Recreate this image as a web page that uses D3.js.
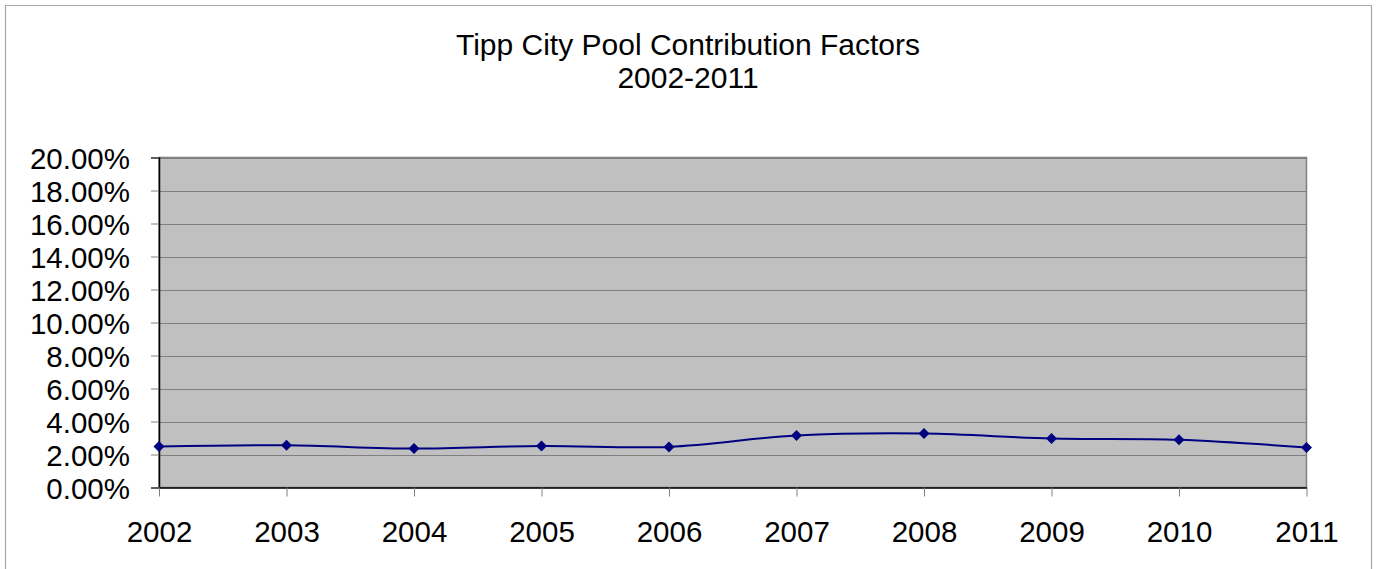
<!DOCTYPE html>
<html>
<head>
<meta charset="utf-8">
<script src="https://cdn.jsdelivr.net/npm/d3@7"></script>
<style>
  body { margin: 0; background: #fff; }
  text { font-family: "Liberation Sans", Arial, sans-serif; fill: #000; }
</style>
</head>
<body>
<script>
// データ
const years = [2002, 2003, 2004, 2005, 2006, 2007, 2008, 2009, 2010, 2011];
const factors = [0.0248, 0.0256, 0.0236, 0.0252, 0.0246, 0.0315, 0.0327, 0.0297, 0.0289, 0.0242];
const yTicks = [0, 0.02, 0.04, 0.06, 0.08, 0.10, 0.12, 0.14, 0.16, 0.18, 0.20];
const titleLines = ["Tipp City Pool Contribution Factors", "2002-2011"];

const width = 1376, height = 569;
const plot = {left: 159, right: 1306.5, top: 157.5, bottom: 487.5};

const svg = d3.select("body").append("svg")
    .attr("width", width)
    .attr("height", height);

// 外枠
svg.append("path")
    .attr("d", `M5.5,${height} V5.5 H1371.5 V${height}`)
    .attr("fill", "none")
    .attr("stroke", "#a6a6a6")
    .attr("stroke-width", 1.2);

const x = d3.scalePoint()
    .domain(years)
    .range([plot.left, plot.right])
    .padding(0);

const y = d3.scaleLinear()
    .domain([0, 0.20])
    .range([plot.bottom, plot.top]);

// プロットエリア背景
svg.append("rect")
    .attr("x", plot.left)
    .attr("y", plot.top)
    .attr("width", plot.right - plot.left)
    .attr("height", plot.bottom - plot.top)
    .attr("fill", "#c0c0c0")
    .attr("stroke", "#808080")
    .attr("stroke-width", 1.5);

// グリッド線
svg.selectAll(".grid")
    .data(yTicks.slice(1))
    .enter()
    .append("line")
    .attr("x1", plot.left)
    .attr("x2", plot.right)
    .attr("y1", d => Math.round(y(d)) + 0.5)
    .attr("y2", d => Math.round(y(d)) + 0.5)
    .attr("stroke", "#808080")
    .attr("stroke-width", 1.2);

// y軸
const yAxis = svg.append("g")
    .attr("transform", `translate(${plot.left},0)`)
    .call(d3.axisLeft(y).tickValues(yTicks).tickSize(8).tickPadding(21)
        .tickFormat(d => (d * 100).toFixed(2) + "%"));
yAxis.select(".domain").attr("stroke", "#000").attr("stroke-width", 1.5);
yAxis.selectAll(".tick line").attr("stroke", "#808080");
yAxis.selectAll("text")
    .attr("font-size", 29.5)
    .attr("font-family", "Liberation Sans, Arial, sans-serif")
    .attr("dy", "0.36em");

// x軸
const xAxis = svg.append("g")
    .attr("transform", `translate(0,${plot.bottom})`)
    .call(d3.axisBottom(x).tickSize(9).tickPadding(25).tickSizeOuter(0));
xAxis.select(".domain").attr("stroke", "#000").attr("stroke-width", 1.5);
xAxis.selectAll(".tick line").attr("stroke", "#808080");
xAxis.selectAll("text")
    .attr("font-size", 29.5)
    .attr("font-family", "Liberation Sans, Arial, sans-serif")
    .attr("dy", "0.71em");

// 折れ線 (スムージング)
const line = d3.line()
    .x((d, i) => x(years[i]))
    .y(d => y(d))
    .curve(d3.curveCatmullRom.alpha(0.5));

svg.append("path")
    .datum(factors)
    .attr("d", line)
    .attr("fill", "none")
    .attr("stroke", "#000080")
    .attr("stroke-width", 2);

// ひし形マーカー
svg.selectAll(".marker")
    .data(factors)
    .enter()
    .append("path")
    .attr("transform", (d, i) => `translate(${x(years[i])},${y(d)})`)
    .attr("d", "M0,-5.5L5.5,0L0,5.5L-5.5,0Z")
    .attr("fill", "#000080");

// タイトル
svg.selectAll(".title")
    .data(titleLines)
    .enter()
    .append("text")
    .attr("x", 688)
    .attr("y", (d, i) => 55 + i * 33)
    .attr("text-anchor", "middle")
    .attr("font-size", 30)
    .text(d => d);
</script>
</body>
</html>
